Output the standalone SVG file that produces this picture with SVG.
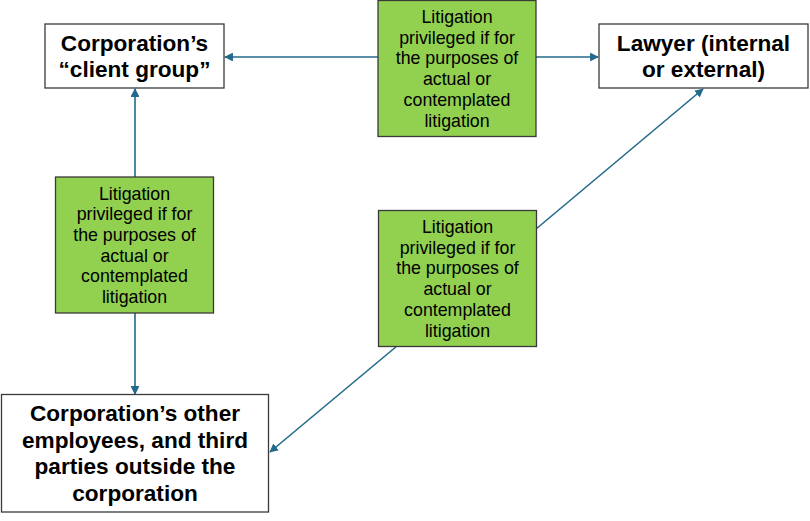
<svg xmlns="http://www.w3.org/2000/svg" width="810" height="521" viewBox="0 0 810 521">
<defs>
<marker id="ah" viewBox="0 0 10 10" refX="9" refY="5" markerWidth="5.5" markerHeight="5.5" orient="auto" markerUnits="strokeWidth">
<path d="M0,0 L10,5 L0,10 z" fill="#23698c"/>
</marker>
<style>
.node{fill:#ffffff;stroke:#3a3a3a;stroke-width:1.3}
.green{fill:#92d050;stroke:#3a3a3a;stroke-width:1.3}
.bt{font-family:"Liberation Sans",Arial,sans-serif;font-weight:bold;font-size:22.6px;fill:#000;text-anchor:middle}
.gt{font-family:"Liberation Sans",Arial,sans-serif;font-size:17.8px;fill:#000;text-anchor:middle}
.conn{stroke:#23698c;stroke-width:1.6;fill:none;marker-end:url(#ah)}
</style>
</defs>
<rect width="810" height="521" fill="#ffffff"/>
<g id="connectors">
<line class="conn" x1="378" y1="57" x2="225" y2="57"/>
<line class="conn" x1="536" y1="57" x2="598" y2="57"/>
<line class="conn" x1="135" y1="177" x2="135" y2="89"/>
<line class="conn" x1="135" y1="313" x2="135" y2="394"/>
<line class="conn" x1="536" y1="229" x2="703" y2="89"/>
<line class="conn" x1="397" y1="346" x2="270" y2="452"/>
</g>
<g id="client-group">
<rect class="node" x="45" y="24" width="179" height="64"/>
<text class="bt" x="134.5" y="51">Corporation’s</text>
<text class="bt" x="134.5" y="77">“client group”</text>
</g>
<g id="lawyer">
<rect class="node" x="599" y="24" width="209" height="64"/>
<text class="bt" x="703.5" y="51">Lawyer (internal</text>
<text class="bt" x="703.5" y="77">or external)</text>
</g>
<g id="others">
<rect class="node" x="1.5" y="394.5" width="267" height="117.5"/>
<text class="bt" x="135" y="421">Corporation’s other</text>
<text class="bt" x="135" y="447.5">employees, and third</text>
<text class="bt" x="135" y="474">parties outside the</text>
<text class="bt" x="135" y="500.5">corporation</text>
</g>
<g id="note-top">
<rect class="green" x="378" y="0.5" width="158" height="136"/>
<text class="gt" x="457" y="23"><tspan x="457">Litigation</tspan><tspan x="457" dy="20.7">privileged if for</tspan><tspan x="457" dy="20.7">the purposes of</tspan><tspan x="457" dy="20.7">actual or</tspan><tspan x="457" dy="20.7">contemplated</tspan><tspan x="457" dy="20.7">litigation</tspan></text>
</g>
<g id="note-left">
<rect class="green" x="55.5" y="177" width="158" height="136"/>
<text class="gt" x="134.5" y="199.5"><tspan x="134.5">Litigation</tspan><tspan x="134.5" dy="20.7">privileged if for</tspan><tspan x="134.5" dy="20.7">the purposes of</tspan><tspan x="134.5" dy="20.7">actual or</tspan><tspan x="134.5" dy="20.7">contemplated</tspan><tspan x="134.5" dy="20.7">litigation</tspan></text>
</g>
<g id="note-middle">
<rect class="green" x="378.5" y="210.5" width="158" height="136"/>
<text class="gt" x="457.5" y="233"><tspan x="457.5">Litigation</tspan><tspan x="457.5" dy="20.7">privileged if for</tspan><tspan x="457.5" dy="20.7">the purposes of</tspan><tspan x="457.5" dy="20.7">actual or</tspan><tspan x="457.5" dy="20.7">contemplated</tspan><tspan x="457.5" dy="20.7">litigation</tspan></text>
</g>
</svg>
